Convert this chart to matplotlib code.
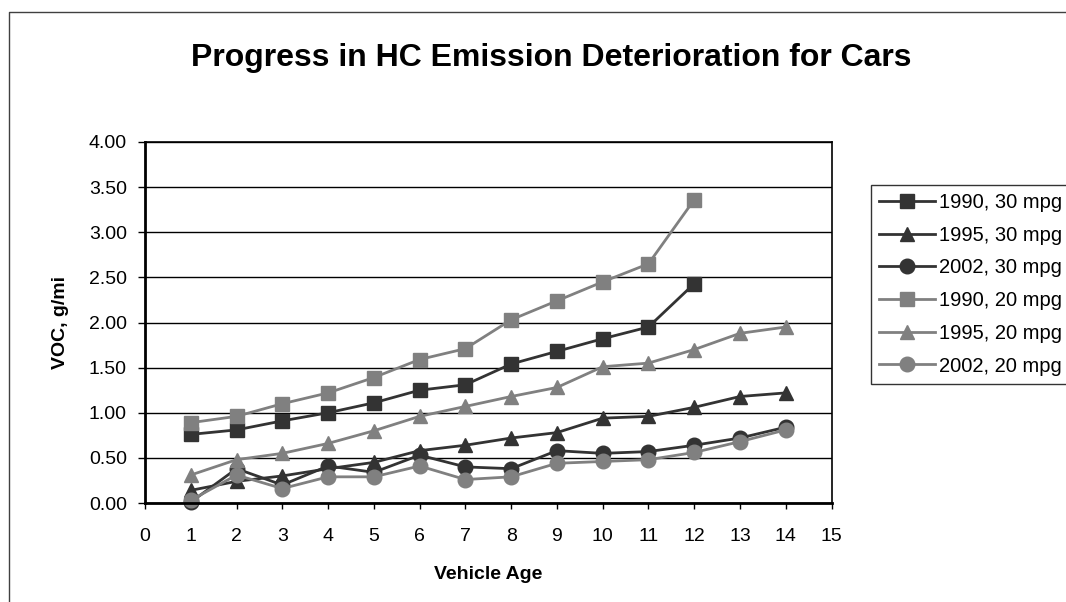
import matplotlib
matplotlib.use("Agg")
import matplotlib.pyplot as plt
from matplotlib.lines import Line2D
from matplotlib.ticker import FormatStrFormatter, MultipleLocator

plt.rcParams['font.family'] = ['Liberation Sans', 'DejaVu Sans']

# vehicle age
age_14 = [1, 2, 3, 4, 5, 6, 7, 8, 9, 10, 11, 12, 13, 14]
age_12 = [1, 2, 3, 4, 5, 6, 7, 8, 9, 10, 11, 12]

# VOC, g/mi
voc_1990_30 = [0.76, 0.81, 0.91, 1.00, 1.11, 1.25, 1.31, 1.54, 1.68, 1.82, 1.95, 2.43]
voc_1995_30 = [0.14, 0.24, 0.30, 0.38, 0.45, 0.58, 0.64, 0.72, 0.78, 0.94, 0.96, 1.06, 1.18, 1.22]
voc_2002_30 = [0.01, 0.38, 0.20, 0.41, 0.34, 0.53, 0.40, 0.38, 0.58, 0.55, 0.57, 0.64, 0.72, 0.84]
voc_1990_20 = [0.89, 0.96, 1.10, 1.22, 1.39, 1.59, 1.71, 2.03, 2.24, 2.45, 2.65, 3.36]
voc_1995_20 = [0.31, 0.48, 0.55, 0.66, 0.80, 0.96, 1.07, 1.18, 1.28, 1.51, 1.55, 1.70, 1.88, 1.95]
voc_2002_20 = [0.03, 0.31, 0.16, 0.29, 0.29, 0.41, 0.26, 0.29, 0.44, 0.46, 0.48, 0.56, 0.68, 0.81]

dark = '#333333'
gray = '#808080'

series = [
    (age_12, voc_1990_30, '1990, 30 mpg', dark, 's'),
    (age_14, voc_1995_30, '1995, 30 mpg', dark, '^'),
    (age_14, voc_2002_30, '2002, 30 mpg', dark, 'o'),
    (age_12, voc_1990_20, '1990, 20 mpg', gray, 's'),
    (age_14, voc_1995_20, '1995, 20 mpg', gray, '^'),
    (age_14, voc_2002_20, '2002, 20 mpg', gray, 'o'),
]
msize = {'s': 9.5, '^': 10, 'o': 10.5}

fig = plt.figure(figsize=(10.66, 6.02), dpi=100)
ax = fig.add_axes([145 / 1066, 1 - 503 / 602, (831.5 - 145) / 1066, (503 - 142) / 602])

handles = []
for x, y, lab, col, mk in series:
    h, = ax.plot(x, y, color=col, lw=2, marker=mk, markersize=msize[mk],
                 markerfacecolor=col, markeredgecolor=col, label=lab, clip_on=False)
    handles.append(h)

ax.set_xlim(0, 15)
ax.set_ylim(0, 4)
ax.xaxis.set_major_locator(MultipleLocator(1))
ax.yaxis.set_major_locator(MultipleLocator(0.5))
ax.yaxis.set_major_formatter(FormatStrFormatter('%.2f'))
ax.grid(axis='y', color='black', lw=1)
ax.set_axisbelow(True)
for sp in ax.spines.values():
    sp.set_color('black')
    sp.set_linewidth(1.2)
ax.spines['left'].set_linewidth(2)
ax.spines['bottom'].set_linewidth(2)
ax.tick_params(axis='x', direction='out', length=4, width=1, pad=14, labelsize=14)
ax.tick_params(axis='y', direction='out', length=5, width=1, pad=8, labelsize=14)

ax.set_xlabel('Vehicle Age', fontsize=14, fontweight='bold', labelpad=15)
ax.set_ylabel('VOC, g/mi', fontsize=14, fontweight='bold', labelpad=14)

fig.text(551 / 1066, 1 - 58 / 602, 'Progress in HC Emission Deterioration for Cars',
         ha='center', va='center', fontsize=23, fontweight='bold')

leg = fig.legend(handles=handles, loc='upper left',
                 bbox_to_anchor=(871 / 1066, 1 - 185 / 602), borderaxespad=0,
                 fontsize=14.5, frameon=True, fancybox=False, edgecolor='black',
                 handlelength=2.8, handletextpad=0.2, borderpad=0.4, labelspacing=0.68)
leg.get_frame().set_linewidth(1)

# chart outer border
fig.add_artist(Line2D([9 / 1066, 9 / 1066, 1.01], [-0.01, 1 - 12 / 602, 1 - 12 / 602],
                      transform=fig.transFigure, color='#404040', lw=1))

fig.savefig('out.png', dpi=100)
